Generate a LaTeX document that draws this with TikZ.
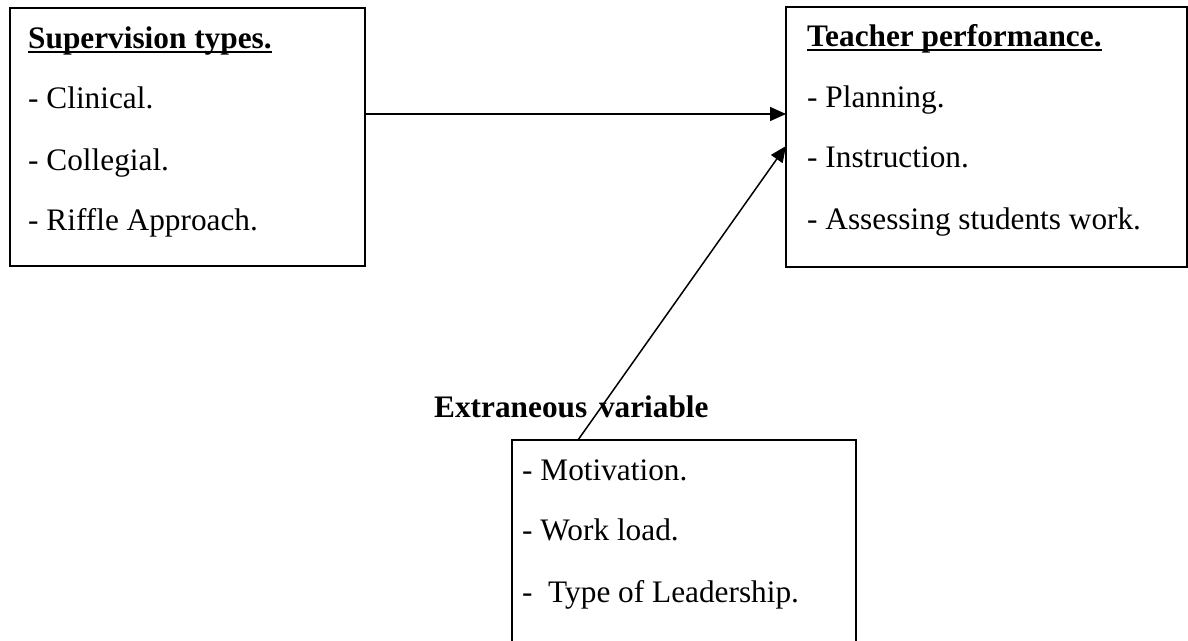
\documentclass[tikz,border=0pt]{standalone}
\usepackage{fontspec}
\setmainfont{Liberation Serif}
\usetikzlibrary{arrows.meta,calc}
\newcommand{\headrule}[1]{\setbox0=\hbox{#1}\leavevmode\rlap{\raisebox{-5pt}{\rule{\wd0}{1.6pt}}}\box0}
\begin{document}
\begin{tikzpicture}[x=1pt,y=-1pt,
  boxframe/.style={draw, line width=1.6pt, outer sep=0pt, inner sep=0pt, anchor=north west},
  item/.style={anchor=base west, inner sep=0pt, font=\fontsize{31.3}{34}\selectfont},
  headtext/.style={item, font=\fontsize{31.3}{34}\selectfont\bfseries},
  link/.style={line width=1.5pt, -{Triangle[length=16pt,width=14pt]}}]
\useasboundingbox (0,0) rectangle (1188,640);
\clip (0,0) rectangle (1188,640);

% supervision box
\node[boxframe, minimum width=355pt, minimum height=258pt] (sup) at (10,8) {};
\node[headtext] (suph) at (28,48) {\headrule{Supervision types.}};
\node[item] (sup1) at (28,108) {- Clinical.};
\node[item] (sup2) at (28,170) {- Collegial.};
\node[item] (sup3) at (28,230) {- Riffle Approach.};

% teacher performance box
\node[boxframe, minimum width=401pt, minimum height=260pt] (tp) at (786,7) {};
\node[headtext] (tph) at (807,46) {\headrule{Teacher performance.}};
\node[item] (tp1) at (807,107) {- Planning.};
\node[item] (tp2) at (807,167) {- Instruction.};
\node[item] (tp3) at (807,229) {- Assessing students work.};

% extraneous variable box
\node[headtext] (exh) at (434,417) {Extraneous\hspace{4pt} variable};
\node[boxframe, minimum width=344pt, minimum height=240pt] (ex) at (512,440) {};
\node[item] (ex1) at (522,480) {- Motivation.};
\node[item] (ex2) at (522,540) {- Work load.};
\node[item] (ex3) at (522,602) {-~ Type of Leadership.};

% connectors
\coordinate (exs) at ($(ex.north west)+(66pt,0)$);
\coordinate (exend) at (tp.west |- 0,146);
\draw[link] (sup.east |- 0,114) -- (tp.west |- 0,114);
\draw[link] (exs) -- (exend);
\end{tikzpicture}
\end{document}
